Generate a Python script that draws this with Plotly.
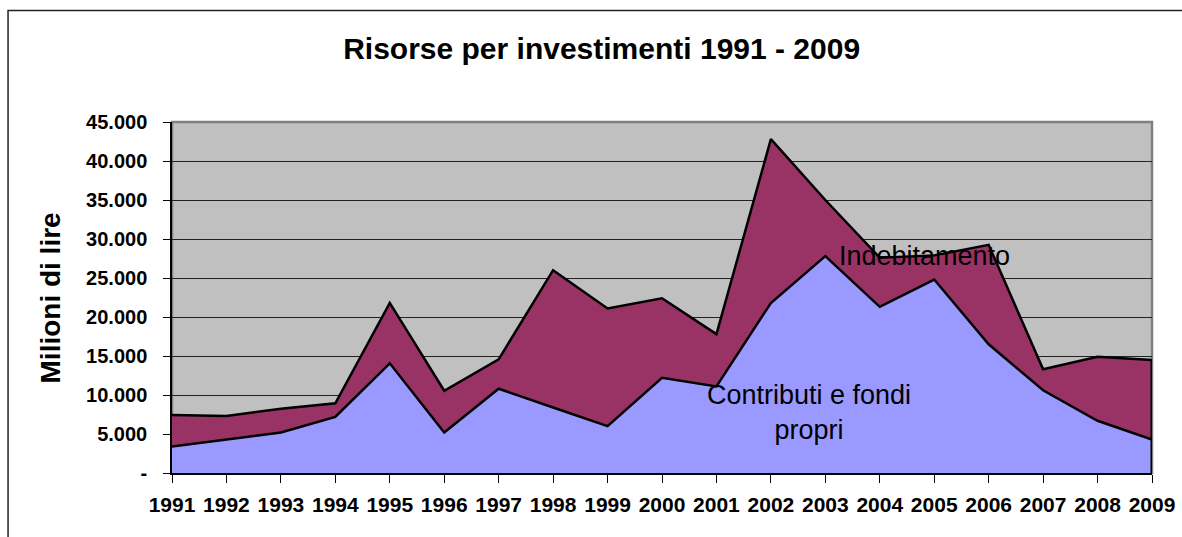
import plotly.graph_objects as go

# Dati (milioni di lire)
anni = list(range(1991, 2010))
contributi = [3400, 4320, 5200, 7200, 14060, 5200, 10800, 8400, 6000, 12200,
              11100, 21800, 27800, 21300, 24800, 16500, 10600, 6700, 4300]
indebitamento = [4050, 2980, 3050, 1730, 7740, 5350, 3780, 17600, 15100, 10200,
                 6700, 21000, 7200, 6300, 3100, 12750, 2700, 8200, 10200]

y_tickvals = [0, 5000, 10000, 15000, 20000, 25000, 30000, 35000, 40000, 45000]
y_ticktext = ["-", "5.000", "10.000", "15.000", "20.000", "25.000",
              "30.000", "35.000", "40.000", "45.000"]

FONT = "Liberation Sans, Arial, sans-serif"

fig = go.Figure()

fig.add_trace(go.Scatter(
    x=anni, y=contributi, stackgroup="one", mode="lines",
    line=dict(color="black", width=2.5), fillcolor="#9999FF",
    name="Contributi e fondi propri"))

fig.add_trace(go.Scatter(
    x=anni, y=indebitamento, stackgroup="one", mode="lines",
    line=dict(color="black", width=2.5), fillcolor="#993366",
    name="Indebitamento"))

# bordo destro dell'area (chiusura verticale a 2009)
fig.add_trace(go.Scatter(
    x=[anni[-1], anni[-1]], y=[0, contributi[-1] + indebitamento[-1]],
    mode="lines", line=dict(color="black", width=3), hoverinfo="skip",
    showlegend=False))

fig.update_layout(
    width=1182, height=537,
    margin=dict(l=172, r=30, t=122, b=64),
    paper_bgcolor="white", plot_bgcolor="#C0C0C0",
    showlegend=False,
    font=dict(family=FONT, color="black"),
    title=dict(text="<b>Risorse per investimenti 1991 - 2009</b>",
               x=0.509, xanchor="center", y=0.91, yanchor="middle",
               font=dict(size=30, family=FONT, color="black")),
)

fig.update_xaxes(
    range=[anni[0], anni[-1]], tickvals=anni, ticktext=[str(a) for a in anni],
    showgrid=False, zeroline=False, showline=True, linecolor="black", linewidth=1.5,
    ticks="outside", ticklen=8, tickcolor="black", ticklabelstandoff=4,
    automargin=False,
    tickfont=dict(size=21, family=FONT, weight="bold", color="black"),
)

fig.update_yaxes(
    range=[0, 45000], tickvals=y_tickvals, ticktext=y_ticktext,
    showgrid=True, gridcolor="#222222", gridwidth=1, zeroline=False,
    showline=True, linecolor="black", linewidth=1.5,
    ticks="outside", ticklen=7, tickcolor="black", ticklabelstandoff=12,
    automargin=False,
    tickfont=dict(size=20, family=FONT, weight="bold", color="black"),
)

# titolo asse y
fig.add_annotation(
    text="<b>Milioni di lire</b>", textangle=-90,
    xref="paper", yref="paper", x=-0.1235, y=0.5,
    xanchor="center", yanchor="middle", showarrow=False,
    font=dict(size=28, family=FONT, color="black"))

# etichette delle serie
fig.add_annotation(
    text="Indebitamento", x=2004.83, y=27800, showarrow=False,
    xanchor="center", yanchor="middle",
    font=dict(size=27, family=FONT, color="black"))
fig.add_annotation(
    text="Contributi e fondi<br>propri", x=2002.7, y=7700, showarrow=False,
    xanchor="center", yanchor="middle",
    font=dict(size=27, family=FONT, color="black"))

# bordo del grafico e dell'area del tracciato
fig.add_shape(type="rect", xref="paper", yref="paper",
              x0=-0.1673, y0=-0.3, x1=1.1, y1=1.3177,
              line=dict(color="#222222", width=1.5))
fig.add_shape(type="rect", xref="paper", yref="paper",
              x0=0, y0=0, x1=1, y1=1, layer="below",
              line=dict(color="#808080", width=2.5))

fig.write_html("out.html", config={"displayModeBar": False},
               post_script="document.body.style.margin='0';")
